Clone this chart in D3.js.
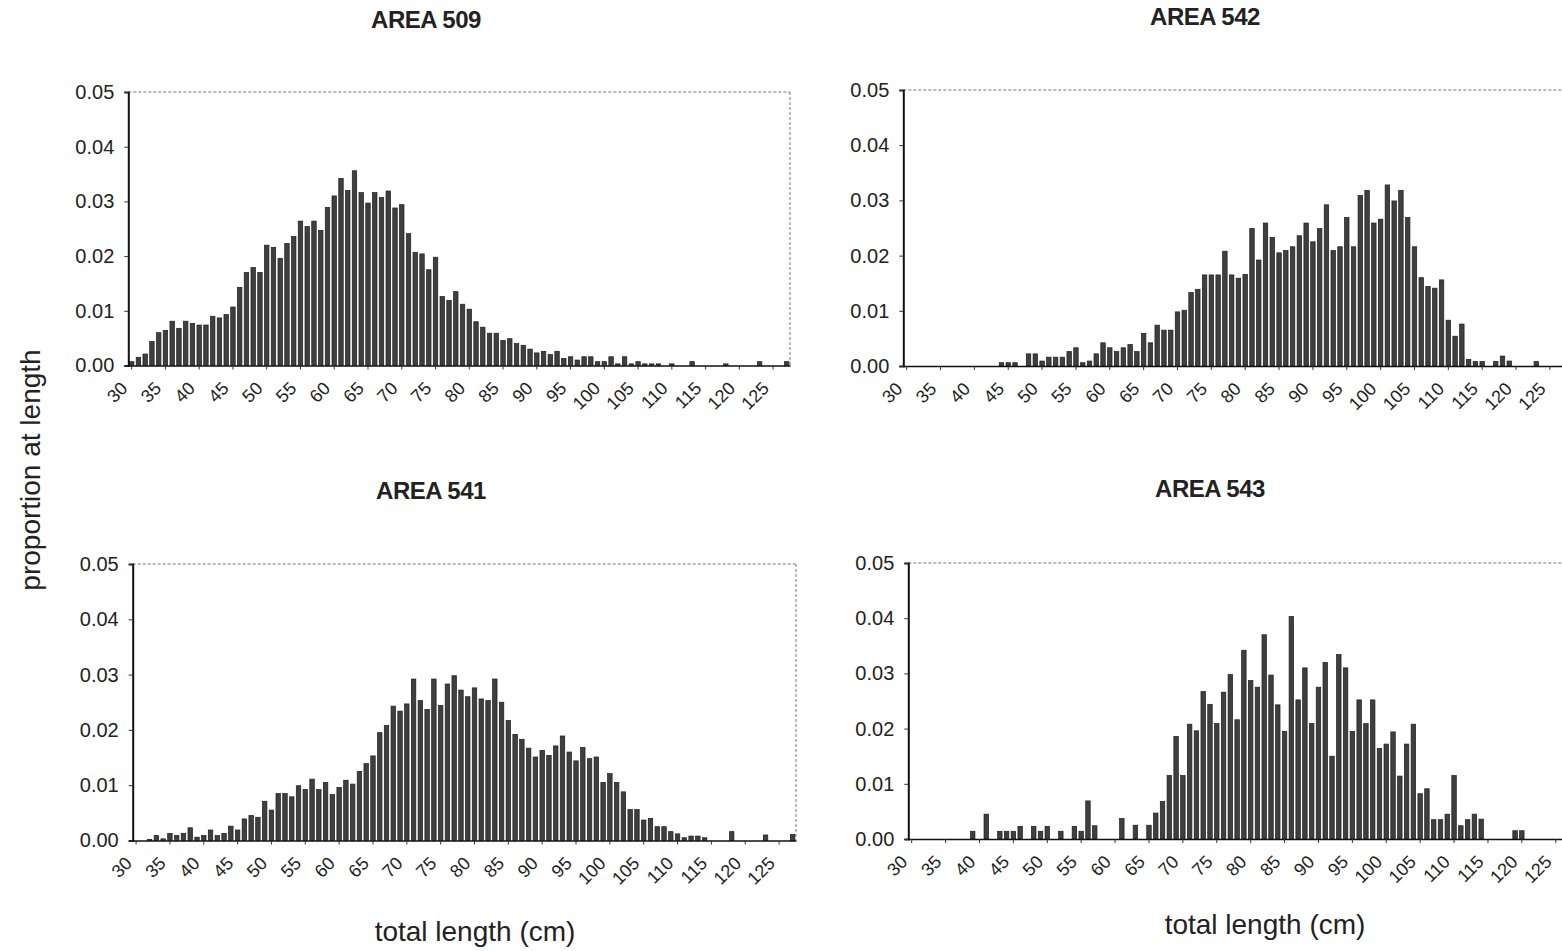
<!DOCTYPE html>
<html>
<head>
<meta charset="utf-8">
<script src="https://cdn.jsdelivr.net/npm/d3@7"></script>
<style>
  html, body { margin: 0; padding: 0; background: #fff; }
  svg { display: block; }
  text { font-family: "Liberation Sans", Arial, Helvetica, sans-serif; fill: #222; }
</style>
</head>
<body>
<svg id="chart" width="1562" height="951"></svg>
<script>
// Length classes (cm), one bar per centimetre
const lengths = [
  30,31,32,33,34,35,36,37,38,39,40,41,42,43,44,45,46,47,48,49,
  50,51,52,53,54,55,56,57,58,59,60,61,62,63,64,65,66,67,68,69,
  70,71,72,73,74,75,76,77,78,79,80,81,82,83,84,85,86,87,88,89,
  90,91,92,93,94,95,96,97,98,99,100,101,102,103,104,105,106,107,108,109,
  110,111,112,113,114,115,116,117,118,119,120,121,122,123,124,125,126,127
];

// Labelled lengths on the x axis
const tickLabels = ["30","35","40","45","50","55","60","65","70","75",
  "80","85","90","95","100","105","110","115","120","125"];

// Proportion values on the y axis
const yTicks = [0, 0.01, 0.02, 0.03, 0.04, 0.05];

// Proportion at length, area 509
const area509 = [
  0.0007,0.0015,0.0021,0.0044,0.0060,0.0064,0.0081,0.0068,0.0081,0.0077,
  0.0074,0.0074,0.0090,0.0087,0.0093,0.0107,0.0143,0.0170,0.0179,0.0170,
  0.0220,0.0216,0.0196,0.0223,0.0236,0.0264,0.0254,0.0264,0.0247,0.0289,
  0.0310,0.0342,0.0320,0.0356,0.0316,0.0297,0.0316,0.0307,0.0319,0.0288,
  0.0294,0.0241,0.0207,0.0204,0.0175,0.0198,0.0126,0.0119,0.0135,0.0112,
  0.0103,0.0080,0.0070,0.0059,0.0059,0.0046,0.0049,0.0040,0.0037,0.0030,
  0.0023,0.0026,0.0020,0.0026,0.0013,0.0016,0.0010,0.0016,0.0016,0.0007,
  0.0007,0.0016,0.0003,0.0016,0.0003,0.0007,0.0003,0.0003,0.0003,0,
  0.0003,0,0,0.0007,0,0,0,0,0.0003,0,
  0,0,0,0.0007,0,0,0,0.0007
];

// Proportion at length, area 542
const area542 = [
  0,0,0,0,0,0,0,0,0,0,
  0,0,0,0,0.0006,0.0006,0.0006,0,0.0022,0.0022,
  0.0009,0.0016,0.0016,0.0016,0.0026,0.0033,0.0006,0.0009,0.0022,0.0042,
  0.0033,0.0026,0.0033,0.0039,0.0026,0.0059,0.0042,0.0074,0.0065,0.0065,
  0.0098,0.0101,0.0133,0.0139,0.0165,0.0165,0.0165,0.0208,0.0165,0.0159,
  0.0166,0.0249,0.0192,0.0259,0.0233,0.0205,0.0209,0.0216,0.0236,0.0259,
  0.0225,0.0249,0.0292,0.0209,0.0216,0.0269,0.0216,0.0309,0.0318,0.0259,
  0.0266,0.0328,0.0299,0.0318,0.0269,0.0216,0.0160,0.0144,0.0141,0.0156,
  0.0083,0.0054,0.0076,0.0012,0.0008,0.0008,0,0.0008,0.0018,0.0009,
  0,0,0,0.0008,0,0,0,0
];

// Proportion at length, area 541
const area541 = [
  0,0,0.0002,0.0009,0.0003,0.0013,0.0009,0.0013,0.0023,0.0006,
  0.0009,0.0019,0.0009,0.0013,0.0026,0.0019,0.0039,0.0045,0.0042,0.0071,
  0.0055,0.0085,0.0085,0.0079,0.0099,0.0092,0.0111,0.0092,0.0105,0.0083,
  0.0096,0.0109,0.0102,0.0125,0.0139,0.0153,0.0195,0.0208,0.0243,0.0234,
  0.0247,0.0292,0.0253,0.0237,0.0292,0.0244,0.0283,0.0298,0.0272,0.0260,
  0.0276,0.0256,0.0253,0.0292,0.0250,0.0217,0.0192,0.0183,0.0167,0.0151,
  0.0163,0.0154,0.0171,0.0189,0.0160,0.0144,0.0168,0.0148,0.0151,0.0105,
  0.0121,0.0105,0.0088,0.0056,0.0056,0.0037,0.0040,0.0025,0.0025,0.0016,
  0.0012,0.0005,0.0008,0.0008,0.0005,0,0,0,0.0016,0,
  0,0,0,0.0010,0,0,0,0.0011
];

// Proportion at length, area 543
const area543 = [
  0,0,0,0,0,0,0,0,0,0.0014,
  0,0.0045,0,0.0014,0.0014,0.0014,0.0023,0,0.0023,0.0014,
  0.0023,0,0.0014,0,0.0023,0.0014,0.0069,0.0024,0,0,
  0,0.0037,0,0.0025,0,0.0025,0.0047,0.0068,0.0115,0.0186,
  0.0115,0.0208,0.0196,0.0267,0.0244,0.0209,0.0266,0.0298,0.0216,0.0342,
  0.0287,0.0275,0.0370,0.0297,0.0243,0.0195,0.0403,0.0252,0.0310,0.0209,
  0.0275,0.0320,0.0150,0.0334,0.0310,0.0195,0.0252,0.0209,0.0252,0.0164,
  0.0172,0.0194,0.0114,0.0172,0.0208,0.0082,0.0091,0.0035,0.0035,0.0045,
  0.0115,0.0024,0.0035,0.0045,0.0036,0,0,0,0,0.0015,
  0.0015,0,0,0,0,0,0,0
];

// Panel placement on the page
const panels = [
  { title: "AREA 509", values: area509, x0: 128.3, x1: 790,    yTop: 92,  yBase: 365.5, tx: 426,  ty: 28 },
  { title: "AREA 542", values: area542, x0: 903.3, x1: 1566.8, yTop: 90,  yBase: 366,   tx: 1205, ty: 25 },
  { title: "AREA 541", values: area541, x0: 132.7, x1: 796,    yTop: 564, yBase: 840.5, tx: 431,  ty: 499 },
  { title: "AREA 543", values: area543, x0: 908.3, x1: 1572.7, yTop: 563, yBase: 839,   tx: 1210, ty: 497 }
];

const svg = d3.select("#chart");

panels.forEach(p => {
  const g = svg.append("g");

  const x = d3.scaleBand()
    .domain(lengths)
    .range([p.x0, p.x1])
    .paddingInner(0.34)
    .paddingOuter(0.17);

  const y = d3.scaleLinear()
    .domain([0, 0.05])
    .range([p.yBase, p.yTop]);

  // plot-area frame (top and right edges are faint)
  g.append("line")
    .attr("x1", p.x0).attr("x2", p.x1)
    .attr("y1", p.yTop).attr("y2", p.yTop)
    .attr("stroke", "#777").attr("stroke-width", 1)
    .attr("stroke-dasharray", "3,2");
  g.append("line")
    .attr("x1", p.x1).attr("x2", p.x1)
    .attr("y1", p.yTop).attr("y2", p.yBase)
    .attr("stroke", "#777").attr("stroke-width", 1)
    .attr("stroke-dasharray", "3,2");

  // bars
  g.append("g")
    .selectAll("rect")
    .data(lengths.map((len, i) => ({ len, v: p.values[i] })).filter(d => d.v > 0))
    .join("rect")
    .attr("x", d => x(d.len))
    .attr("width", x.bandwidth())
    .attr("y", d => y(d.v))
    .attr("height", d => y(0) - y(d.v))
    .attr("fill", "#3f3f3f")
    .attr("stroke", "#1c1c1c")
    .attr("stroke-width", 0.7);

  // y axis
  const yAxis = g.append("g")
    .attr("transform", `translate(${p.x0},0)`)
    .call(d3.axisLeft(y).tickValues(yTicks).tickFormat(d3.format(".2f")).tickSize(4).tickPadding(10));
  yAxis.select(".domain").attr("stroke", "#111").attr("stroke-width", 2);
  yAxis.selectAll(".tick line").attr("stroke", "#333");
  yAxis.selectAll("text")
    .style("font-size", "20px")
    .attr("fill", "#222");

  // x axis
  const labelled = lengths.filter(l => tickLabels.includes(String(l)));
  const xAxis = g.append("g")
    .attr("transform", `translate(0,${p.yBase})`)
    .call(d3.axisBottom(x).tickValues(labelled).tickSize(4).tickSizeOuter(0));
  xAxis.select(".domain").attr("stroke", "#111").attr("stroke-width", 1.6);
  xAxis.selectAll(".tick line").attr("stroke", "#333");
  xAxis.selectAll("text")
    .style("font-size", "18px")
    .attr("fill", "#222")
    .attr("text-anchor", "end")
    .attr("dx", "0")
    .attr("dy", "0")
    .attr("y", 0)
    .attr("transform", "translate(-3,24) rotate(-45)");

  // panel title
  g.append("text")
    .attr("x", p.tx)
    .attr("y", p.ty)
    .attr("text-anchor", "middle")
    .style("font-size", "24px")
    .style("font-weight", "bold")
    .style("letter-spacing", "-0.5px")
    .attr("fill", "#111")
    .text(p.title);
});

// shared axis titles
svg.append("text")
  .attr("transform", "translate(40,470) rotate(-90)")
  .attr("text-anchor", "middle")
  .style("font-size", "28px")
  .attr("fill", "#333")
  .text("proportion at length");

svg.append("text")
  .attr("x", 475).attr("y", 941)
  .attr("text-anchor", "middle")
  .style("font-size", "28px")
  .attr("fill", "#333")
  .text("total length (cm)");

svg.append("text")
  .attr("x", 1265).attr("y", 934)
  .attr("text-anchor", "middle")
  .style("font-size", "28px")
  .attr("fill", "#333")
  .text("total length (cm)");
</script>
</body>
</html>
